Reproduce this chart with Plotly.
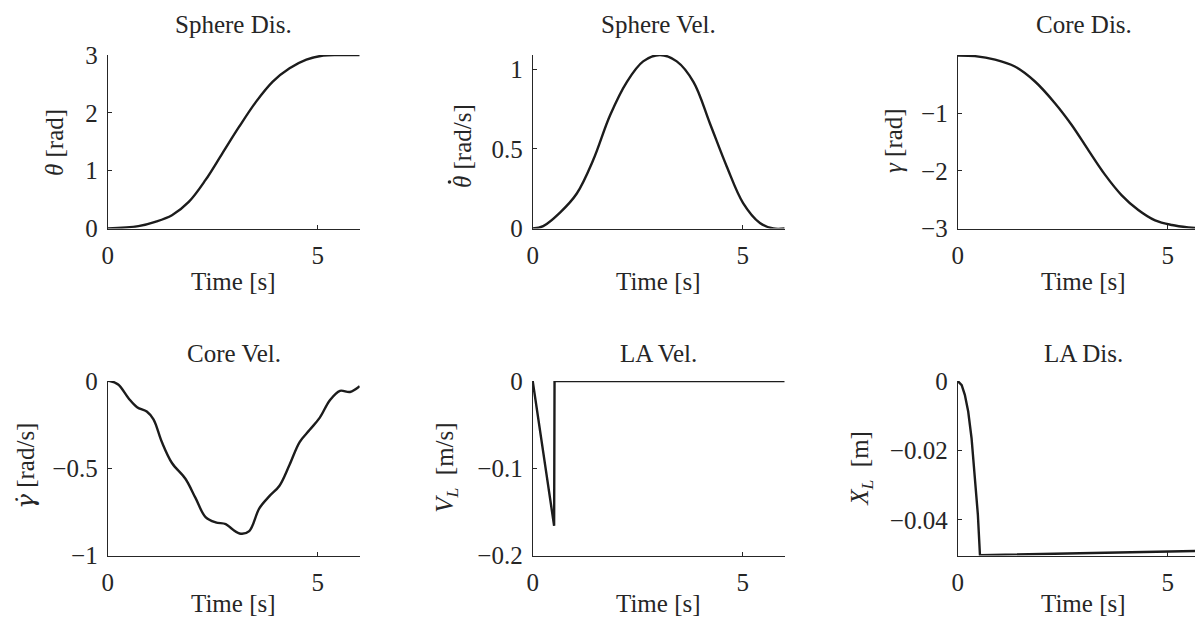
import plotly.graph_objects as go

# ---------------- data ----------------
t_sd = [0, 0.73, 1.13, 1.53, 1.93, 2.33, 2.73, 3.13, 3.53, 3.93, 4.33, 4.73, 5.13, 5.5, 6.0]
theta = [0, 0.04, 0.115, 0.23, 0.46, 0.84, 1.30, 1.76, 2.19, 2.54, 2.77, 2.92, 2.99, 3.0, 3.0]

t_sv = [0, 0.25, 0.65, 1.05, 1.44, 1.84, 2.24, 2.63, 3.03, 3.43, 3.83, 4.22, 4.62, 5.01, 5.41, 5.73, 6.0]
theta_dot = [0, 0.015, 0.10, 0.22, 0.43, 0.71, 0.92, 1.05, 1.09, 1.05, 0.92, 0.66, 0.39, 0.16, 0.035, 0.0, 0.0]

t_cd = [0, 0.41, 0.89, 1.36, 1.84, 2.32, 2.71, 3.11, 3.51, 3.90, 4.30, 4.70, 5.10, 5.49, 5.85, 6.0]
gamma = [0, -0.01, -0.07, -0.19, -0.45, -0.83, -1.20, -1.64, -2.07, -2.42, -2.68, -2.86, -2.94, -2.98, -3.0, -3.0]

t_cv = [0, 0.05, 0.25, 0.5, 0.7, 0.93, 1.09, 1.29, 1.53, 1.85, 2.09, 2.33, 2.57, 2.81, 2.97, 3.17,
        3.37, 3.61, 3.85, 4.09, 4.33, 4.57, 4.81, 5.05, 5.29, 5.53, 5.77, 6.0]
gamma_dot = [0, 0, -0.02, -0.10, -0.15, -0.175, -0.22, -0.35, -0.47, -0.56, -0.67, -0.78, -0.81, -0.82,
             -0.85, -0.875, -0.86, -0.73, -0.66, -0.60, -0.48, -0.35, -0.28, -0.21, -0.11, -0.056, -0.063, -0.03]

t_lv = [0, 0.51, 0.52, 6.0]
v_l = [0, -0.166, 0, 0]

t_ld = [0, 0.095, 0.17, 0.25, 0.33, 0.41, 0.48, 0.53, 2.0, 3.0, 4.0, 5.0, 6.0]
x_l = [0, -0.0012, -0.004, -0.0088, -0.0165, -0.027, -0.0385, -0.0502, -0.0499, -0.0496, -0.0493, -0.0491, -0.0489]

titles = ["Sphere Dis.", "Sphere Vel.", "Core Dis.", "Core Vel.", "LA Vel.", "LA Dis."]
DOTFONT = '<span style="font-family:DejaVu Serif">'
ylabels = ["<i>θ</i> [rad]", "<i>θ</i> [rad/s]", "<i>γ</i> [rad]",
           DOTFONT + "<i>γ̇</i></span> [rad/s]", "<i>V</i><sub><i>L</i></sub>  [m/s]",
           "<i>X</i><sub><i>L</i></sub>  [m]"]
x_ticks = [0, 5]
y_ticks = [[0, 1, 2, 3], [0, 0.5, 1], [-3, -2, -1], [-1, -0.5, 0], [-0.2, -0.1, 0], [-0.04, -0.02, 0]]
y_ticktext = [["0", "1", "2", "3"], ["0", "0.5", "1"], ["−3", "−2", "−1"],
              ["−1", "−0.5", "0"], ["−0.2", "−0.1", "0"], ["−0.04", "−0.02", "0"]]
y_ranges = [[0, 3], [0, 1.09], [-3, 0.01], [-1, 0], [-0.2, 0], [-0.0503, 0]]
series = [(t_sd, theta), (t_sv, theta_dot), (t_cd, gamma), (t_cv, gamma_dot), (t_lv, v_l), (t_ld, x_l)]
shapes = ["spline", "spline", "spline", "spline", "linear", "linear"]

# ---------------- layout geometry (viewport pixels) ----------------
W, H = 1203, 619
OFF = 8  # page body margin
def fx(px):
    return (px - OFF) / W
def fy(py):
    return 1 - (py - OFF) / H

col_px = [(107.7, 359.7), (532.7, 784.7), (957.7, 1209.7)]
row_px = [(55, 228.5), (381, 555.5)]
ylab_x = [55, 462, 893, 25, 446.7, 861.7]
ylab_y = [143, 146, 141, 466, 468, 468]
title_y = [25, 353]
xtitle_y = [281, 603]

FONT = "Liberation Serif"
FS = 25
TXT = "#262626"
LINE = "#1c1c1c"

fig = go.Figure()
layout = dict(template="none", width=W, height=H,
              margin=dict(l=0, r=0, t=0, b=0, pad=0, autoexpand=False),
              paper_bgcolor="white", plot_bgcolor="white", showlegend=False,
              font=dict(family=FONT, size=FS, color=TXT))
annotations = []

for i in range(6):
    r, c = divmod(i, 3)
    x0, x1 = col_px[c]
    y0, y1 = row_px[r]
    xd = [fx(x0), min(fx(x1), 1.0)]
    yd = [fy(y1), fy(y0)]
    xa = "xaxis" if i == 0 else f"xaxis{i+1}"
    ya = "yaxis" if i == 0 else f"yaxis{i+1}"
    xref = "x" if i == 0 else f"x{i+1}"
    yref = "y" if i == 0 else f"y{i+1}"
    tx, ty = series[i]
    fig.add_trace(go.Scatter(x=tx, y=ty, mode="lines", xaxis=xref, yaxis=yref,
                             line=dict(color=LINE, width=2.4, shape=shapes[i]),
                             cliponaxis=True, hoverinfo="skip"))
    common = dict(showline=True, linecolor=TXT, linewidth=1, showgrid=False, zeroline=False,
                  automargin=False, ticks="inside", ticklen=4, tickwidth=1, tickcolor=TXT,
                  tickfont=dict(family=FONT, size=FS, color=TXT))
    layout[xa] = dict(domain=xd, range=[0, 6], anchor=yref, tickmode="array",
                      tickvals=x_ticks, ticktext=[str(v) for v in x_ticks],
                      ticklabelstandoff=4, **common)
    layout[ya] = dict(domain=yd, range=y_ranges[i], anchor=xref, tickmode="array",
                      tickvals=y_ticks[i], ticktext=y_ticktext[i],
                      ticklabelstandoff=4, **common)
    cx = (x0 + x1) / 2
    annotations.append(dict(text=titles[i], x=fx(cx), y=fy(title_y[r]), xref="paper", yref="paper",
                            showarrow=False, xanchor="center", yanchor="middle",
                            font=dict(family=FONT, size=FS, color=TXT)))
    annotations.append(dict(text="Time [s]", x=fx(cx), y=fy(xtitle_y[r]), xref="paper", yref="paper",
                            showarrow=False, xanchor="center", yanchor="middle",
                            font=dict(family=FONT, size=FS, color=TXT)))
    annotations.append(dict(text=ylabels[i], x=fx(ylab_x[i]), y=fy(ylab_y[i]),
                            xref="paper", yref="paper", textangle=-90,
                            showarrow=False, xanchor="center", yanchor="middle",
                            font=dict(family=FONT, size=FS, color=TXT)))

# dot accent over the rotated theta of "theta-dot"
dx, dy, rad = 449.5, 182, 1.8
layout["shapes"] = [dict(type="circle", xref="paper", yref="paper",
                         x0=fx(dx - rad), x1=fx(dx + rad), y0=fy(dy + rad), y1=fy(dy - rad),
                         fillcolor=TXT, line=dict(width=0))]
layout["annotations"] = annotations
fig.update_layout(**layout)
fig.write_html("out.html")
